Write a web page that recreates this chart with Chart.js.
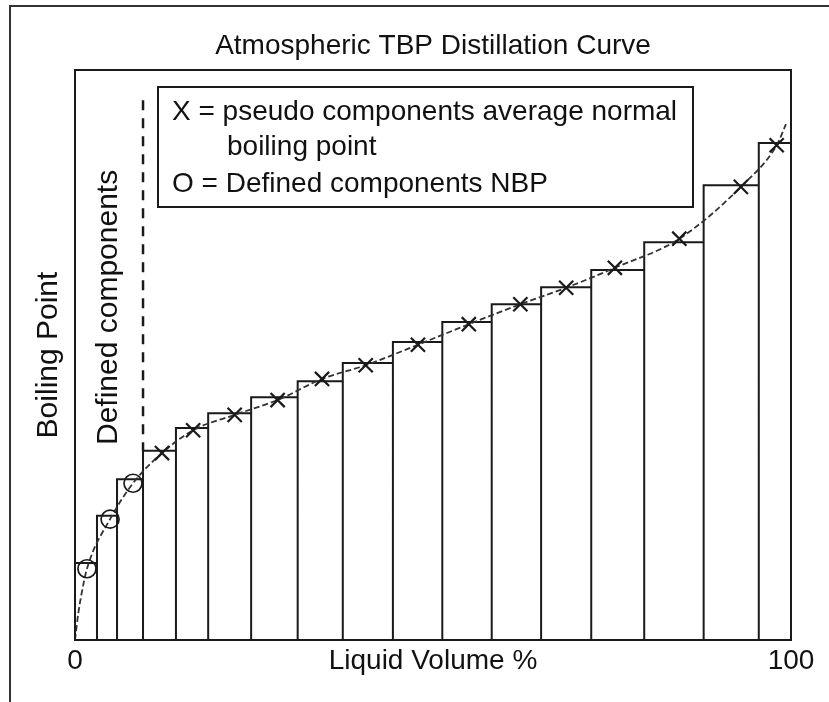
<!DOCTYPE html>
<html>
<head>
<meta charset="utf-8">
<script src="https://cdn.jsdelivr.net/npm/chart.js@4.4.1/dist/chart.umd.min.js"></script>
<style>
  html, body { margin: 0; padding: 0; background: #fff; }
  #chart { display: block; }
</style>
</head>
<body>
<canvas id="chart" width="829" height="702"></canvas>
<script>
// cut boundaries along the curve (liquid volume %)
let cutEdges = [0, 3.07, 5.87, 9.5, 14.1, 18.6, 24.6, 31.1, 37.4, 44.4, 51.3, 58.2, 65.1, 72.1, 79.5, 87.8, 95.5, 100];
// boiling point of each cut (no units on the original, 0-100 relative)
let cutHeights = [13.5, 21.8, 28.2, 33.2, 37.2, 39.8, 42.6, 45.4, 48.6, 52.3, 55.8, 58.9, 61.9, 64.9, 69.8, 79.8, 87.2];

// defined components NBP (O)
let definedX = [1.67, 4.9, 8.1];
let definedY = [12.5, 21.2, 27.5];

// pseudo components average NBP (X)
let pseudoX = [12.15, 16.5, 22.3, 28.3, 34.5, 40.6, 47.9, 55.0, 62.2, 68.6, 75.4, 84.4, 93.0, 98.0];
let pseudoY = [32.8, 36.8, 39.5, 42.1, 45.8, 48.2, 51.8, 55.4, 58.9, 61.8, 65.3, 70.4, 79.5, 86.8];

// TBP curve
let curveX = [0, 0.46, 0.93, 1.67, 4.9, 8.1, 12.15, 16.5, 22.3, 28.3, 34.5, 40.6, 47.9, 55.0, 62.2, 68.6, 75.4, 84.4, 93.0, 98.0, 99.3];
let curveY = [0, 4.7, 8.2, 12.5, 21.2, 27.5, 32.8, 36.8, 39.5, 42.1, 45.8, 48.2, 51.8, 55.4, 58.9, 61.8, 65.3, 70.4, 79.5, 86.8, 90.5];

// dashed divider between defined and pseudo components
let dividerIndex = 3;
let dividerTop = 94.7;

let xTickValues = [0, 50, 100];
let xTickLabels = ["0", "Liquid Volume %", "100"];

const FONT = "'Liberation Sans', Arial, sans-serif";
const INK = "#1a1a1a";

Chart.defaults.font.family = FONT;
Chart.defaults.color = "#111";

function pairs(xs, ys) {
    return xs.map((x, i) => ({ x: x, y: ys[i] }));
}

// outline of the cut rectangles as one path
function cutOutline() {
    let pts = [{ x: cutEdges[0], y: 0 }];
    cutHeights.forEach((h, i) => {
        pts.push({ x: cutEdges[i], y: h });
        pts.push({ x: cutEdges[i + 1], y: h });
        pts.push({ x: cutEdges[i + 1], y: 0 });
    });
    return pts;
}

const decor = {
    id: "decor",
    beforeDraw(chart) {
        let ctx = chart.ctx;
        ctx.save();
        ctx.strokeStyle = "#333";
        ctx.lineWidth = 2;
        ctx.beginPath();
        ctx.moveTo(10, 702);
        ctx.lineTo(10, 6);
        ctx.lineTo(829, 6);
        ctx.stroke();
        ctx.restore();
    },
    afterDraw(chart) {
        let ctx = chart.ctx;
        let a = chart.chartArea;
        ctx.save();
        ctx.strokeStyle = INK;
        ctx.lineWidth = 2;
        ctx.strokeRect(a.left, a.top, a.right - a.left, a.bottom - a.top);

        // legend box
        ctx.fillStyle = "#fff";
        ctx.fillRect(158, 87, 535, 120);
        ctx.strokeRect(158, 87, 535, 120);
        ctx.fillStyle = "#111";
        ctx.font = "28px " + FONT;
        ctx.textAlign = "left";
        ctx.textBaseline = "alphabetic";
        ctx.fillText("X = pseudo components average normal", 172, 120);
        ctx.fillText("boiling point", 227, 155);
        ctx.fillText("O = Defined components NBP", 172, 192);

        // rotated note
        ctx.font = "30px " + FONT;
        ctx.translate(117, 445);
        ctx.rotate(-Math.PI / 2);
        ctx.fillText("Defined components", 0, 0);
        ctx.restore();
    }
};

new Chart(document.getElementById("chart"), {
    type: "line",
    data: {
        datasets: [
            {
                label: "Defined components NBP",
                data: pairs(definedX, definedY),
                showLine: false,
                pointStyle: "circle",
                pointRadius: 9,
                pointBorderWidth: 1.7,
                pointBorderColor: INK,
                pointBackgroundColor: "rgba(0,0,0,0)"
            },
            {
                label: "Pseudo components average NBP",
                data: pairs(pseudoX, pseudoY),
                showLine: false,
                pointStyle: "crossRot",
                pointRadius: 10,
                pointBorderWidth: 2.2,
                pointBorderColor: INK
            },
            {
                label: "TBP curve",
                data: pairs(curveX, curveY),
                borderColor: "#333",
                borderWidth: 1.8,
                borderDash: [6, 3],
                pointRadius: 0,
                cubicInterpolationMode: "monotone"
            },
            {
                label: "Defined components limit",
                data: [
                    { x: cutEdges[dividerIndex], y: dividerTop },
                    { x: cutEdges[dividerIndex], y: cutHeights[dividerIndex] }
                ],
                borderColor: INK,
                borderWidth: 2.5,
                borderDash: [10, 8],
                pointRadius: 0
            },
            {
                label: "Cuts",
                data: cutOutline(),
                borderColor: INK,
                borderWidth: 2,
                pointRadius: 0,
                tension: 0
            }
        ]
    },
    options: {
        responsive: false,
        animation: false,
        layout: { padding: { left: 31, right: 38, top: 0, bottom: 20 } },
        plugins: {
            legend: { display: false },
            tooltip: { enabled: false },
            title: {
                display: true,
                text: "Atmospheric TBP Distillation Curve",
                fullSize: false,
                color: "#111",
                font: { size: 28, weight: "normal", lineHeight: 1.2 },
                padding: { top: 29.5, bottom: 6.9 }
            }
        },
        scales: {
            x: {
                type: "linear",
                min: 0,
                max: 100,
                grid: { display: false, drawTicks: false },
                border: { display: false },
                afterBuildTicks: axis => {
                    axis.ticks = xTickValues.map(v => ({ value: v }));
                },
                ticks: {
                    autoSkip: false,
                    maxRotation: 0,
                    padding: 4.2,
                    font: { size: 28, lineHeight: 1.2 },
                    callback: (v, i) => xTickLabels[i]
                }
            },
            y: {
                min: 0,
                max: 100,
                grid: { display: false, drawTicks: false },
                border: { display: false },
                ticks: { display: false },
                title: {
                    display: true,
                    text: "Boiling Point",
                    font: { size: 30, lineHeight: 1.2 },
                    padding: { top: 0, bottom: 8 }
                }
            }
        }
    },
    plugins: [decor]
});
</script>
</body>
</html>
